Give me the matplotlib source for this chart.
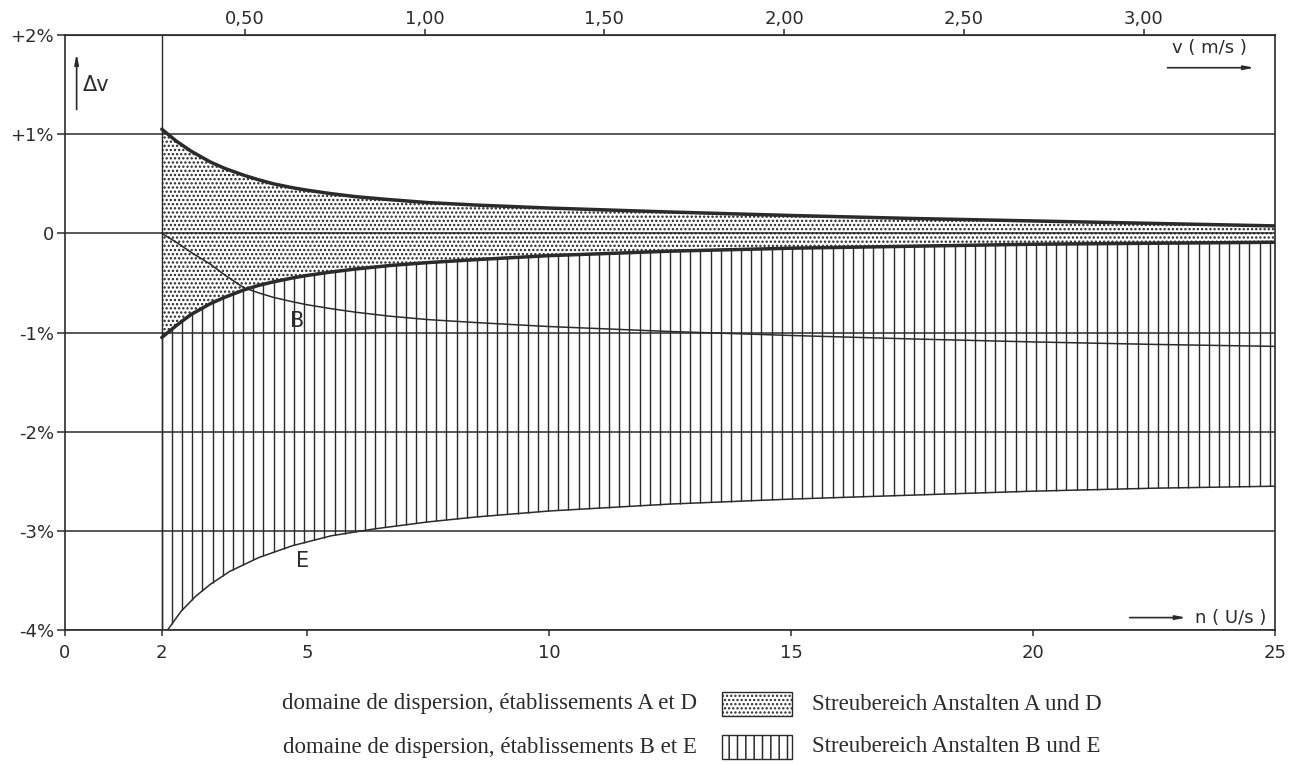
import numpy as np
import matplotlib.pyplot as plt
from matplotlib.patches import Rectangle

# values (n in U/s, deviation in %)
n = [2, 2.3, 2.6, 3.0, 3.3, 3.7, 4.0, 4.3, 4.7, 5.0, 5.5, 6.0, 6.7, 7.5, 8.5, 10, 12.5, 15, 17.5,
     20, 22.5, 25]
ad_upper = [1.05, 0.93, 0.83, 0.72, 0.655, 0.585, 0.54, 0.50, 0.46, 0.435, 0.40, 0.37, 0.34, 0.31,
            0.285, 0.255, 0.215, 0.18, 0.15, 0.125, 0.10, 0.075]
ad_lower = [-1.05, -0.93, -0.82, -0.71, -0.645, -0.57, -0.525, -0.49, -0.45, -0.425, -0.39, -0.36,
            -0.325, -0.295, -0.265, -0.225, -0.18, -0.15, -0.13, -0.11, -0.10, -0.09]
b_curve = [0.0, -0.09, -0.19, -0.31, -0.42, -0.55, -0.60, -0.645, -0.69, -0.72, -0.76, -0.795,
           -0.835, -0.87, -0.90, -0.94, -0.99, -1.03, -1.065, -1.095, -1.12, -1.14]

n_e = [2.12, 2.4, 2.7, 3.0, 3.4, 4.0, 4.7, 5.5, 6.4, 7.5, 8.5, 10, 12.5, 15, 17.5, 20, 22.5, 25]
e_curve = [-4.0, -3.81, -3.66, -3.54, -3.41, -3.27, -3.15, -3.05, -2.98, -2.91, -2.86, -2.80,
           -2.73, -2.68, -2.64, -2.60, -2.57, -2.55]

n_ticks = [0, 2, 5, 10, 15, 20, 25]
y_ticks = [2, 1, 0, -1, -2, -3, -4]
y_labels = ['+2%', '+1%', '0', '-1%', '-2%', '-3%', '-4%']
v_ticks = [0.5, 1.0, 1.5, 2.0, 2.5, 3.0]
v_labels = ['0,50', '1,00', '1,50', '2,00', '2,50', '3,00']
v_per_n = 0.1346  # m per revolution

ink = '#2b2b2b'
W, H = 1298, 765
plt.rcParams['hatch.linewidth'] = 1.1

fig = plt.figure(figsize=(W / 100, H / 100), dpi=100)
ax = fig.add_axes([65 / W, 135 / H, 1210 / W, 595 / H])
ax.set_xlim(0, 25)
ax.set_ylim(-4, 2)

# grid lines
for y in y_ticks:
    ax.axhline(y, color=ink, lw=1.1, zorder=1)
ax.axvline(2, color=ink, lw=1.0, zorder=1)

# vertical hatch: domain B / E, between E curve and lower A/D curve
nh = np.arange(2.0, 25.0, 0.21)
ax.vlines(nh, np.interp(nh, n_e, e_curve, left=-4), np.interp(nh, n, ad_lower),
          color=ink, lw=1.0, zorder=1.5)

# stippled domain A / D
ax.fill_between(n, ad_lower, ad_upper, facecolor='none', edgecolor='#222222',
                hatch='....', lw=0, zorder=2)

ax.plot(n, ad_upper, color=ink, lw=2.5, zorder=3, solid_capstyle='round')
ax.plot(n, ad_lower, color=ink, lw=2.5, zorder=3, solid_capstyle='round')
ax.plot(n, b_curve, color=ink, lw=1.1, zorder=3)
ax.plot(n_e, e_curve, color=ink, lw=1.1, zorder=3)

ax.text(4.8, -0.88, 'B', fontsize=15, ha='center', va='center', color=ink)
ax.text(4.9, -3.30, 'E', fontsize=15, ha='center', va='center', color=ink)

# axis labels with arrows
ax.annotate('', xy=(0.24, 1.84), xytext=(0.24, 1.22),
            arrowprops=dict(arrowstyle='-|>,head_width=0.12,head_length=0.6', color=ink, lw=1.2))
ax.text(0.36, 1.50, 'Δv', fontsize=15, ha='left', va='center', color=ink)
ax.annotate('', xy=(24.63, 1.67), xytext=(22.72, 1.67),
            arrowprops=dict(arrowstyle='-|>,head_width=0.12,head_length=0.6', color=ink, lw=1.2))
ax.text(23.65, 1.87, 'v ( m/s )', fontsize=13, ha='center', va='center', color=ink)
ax.annotate('', xy=(23.22, -3.875), xytext=(21.94, -3.875),
            arrowprops=dict(arrowstyle='-|>,head_width=0.12,head_length=0.6', color=ink, lw=1.2))
ax.text(23.35, -3.875, 'n ( U/s )', fontsize=13, ha='left', va='center', color=ink)

# ticks
ax.set_xticks(n_ticks)
ax.set_xticklabels([str(t) for t in n_ticks])
ax.set_yticks(y_ticks)
ax.set_yticklabels(y_labels)
ax.tick_params(axis='x', direction='out', length=4, width=1.1, color=ink, labelsize=13,
               labelcolor=ink, pad=6)
ax.tick_params(axis='y', direction='out', length=6, width=1.1, color=ink, labelsize=13,
               labelcolor=ink, pad=2)
for s in ax.spines.values():
    s.set_color(ink)
    s.set_linewidth(1.2)

top = ax.secondary_xaxis('top', functions=(lambda x: x * v_per_n, lambda v: v / v_per_n))
top.set_xticks(v_ticks)
top.set_xticklabels(v_labels)
top.tick_params(direction='out', length=4, width=1.1, color=ink, labelsize=13, labelcolor=ink, pad=1)
top.spines['top'].set_color(ink)

# legend below the chart, in pixel coordinates
lax = fig.add_axes([0, 0, 1, 1], zorder=-1)
lax.set_xlim(0, W)
lax.set_ylim(H, 0)
lax.axis('off')
serif = 'Liberation Serif'
rows = [
    ('domaine de dispersion, établissements A et D', 'Streubereich Anstalten A und D', '....'),
    ('domaine de dispersion, établissements B et E', 'Streubereich Anstalten B und E', '||'),
]
for i, (fr, de, hatch) in enumerate(rows):
    yc = 704 + i * 43
    lax.text(697, yc, fr, family=serif, fontsize=16.5, ha='right', va='center', color=ink)
    lax.add_patch(Rectangle((722, yc - 12), 70, 24, facecolor='white', edgecolor=ink,
                            hatch=hatch, lw=1.0))
    lax.text(812, yc, de, family=serif, fontsize=16.5, ha='left', va='center', color=ink)

fig.savefig('out.png', dpi=100)
